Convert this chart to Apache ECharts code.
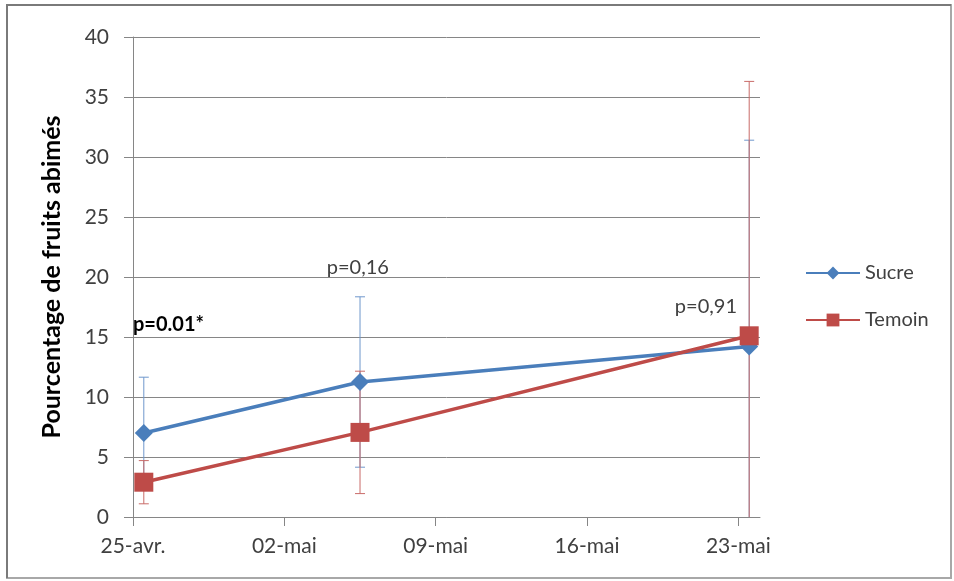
<!DOCTYPE html>
<html>
<head>
<meta charset="utf-8">
<script src="https://cdn.jsdelivr.net/npm/echarts@6/dist/echarts.min.js"></script>
<style>
html,body{margin:0;padding:0;background:#fff;}
#chart{width:954px;height:581px;}
</style>
</head>
<body>
<div id="chart"></div>
<script>
// Days since 25-avr. for each measurement date (25-avr., 05-mai, 23-mai)
const measureDays = [0, 10, 28];
const tickDays = [0, 7, 14, 21, 28];
const tickLabels = ['25-avr.', '02-mai', '09-mai', '16-mai', '23-mai'];

const sucreMean = [7.0, 11.25, 14.2];
const sucreErr  = [4.65, 7.1, 17.2];
const temoinMean = [2.9, 7.05, 15.1];
const temoinErr  = [1.8, 5.1, 21.2];

const pLabels = ['p=0.01*', 'p=0,16', 'p=0,91'];
const pLabelDay = [0, 10.4, 26.5];
const pLabelVal = [16.0, 20.8, 17.5];
const pLabelBold = [true, false, false];

const yTicks = [0, 5, 10, 15, 20, 25, 30, 35, 40];

const FONT = 'Lato';
const BLUE = '#4A7EBB';
const RED = '#BE4B48';

// Excel date axis places each point at the middle of its day slot
const px = d => d + 0.5;

const sucreData = measureDays.map((d, i) => [px(d), sucreMean[i]]);
const temoinData = measureDays.map((d, i) => [px(d), temoinMean[i]]);
const sucreErrData = measureDays.map((d, i) => [px(d), sucreMean[i] - sucreErr[i], sucreMean[i] + sucreErr[i]]);
const temoinErrData = measureDays.map((d, i) => [px(d), temoinMean[i] - temoinErr[i], temoinMean[i] + temoinErr[i]]);
const pData = pLabels.map((t, i) => [pLabelDay[i], pLabelVal[i], i]);

function errRender(color) {
  return function (params, api) {
    const x = api.value(0), lo = api.value(1), hi = api.value(2);
    const top = api.coord([x, hi]);
    const bot = api.coord([x, Math.max(lo, 0)]);
    const hw = 5;
    const style = { stroke: color, lineWidth: 1 };
    const children = [
      { type: 'line', shape: { x1: top[0], y1: top[1], x2: bot[0], y2: bot[1] }, style },
      { type: 'line', shape: { x1: top[0] - hw, y1: top[1], x2: top[0] + hw, y2: top[1] }, style }
    ];
    if (lo >= 0) {
      children.push({ type: 'line', shape: { x1: bot[0] - hw, y1: bot[1], x2: bot[0] + hw, y2: bot[1] }, style });
    }
    return { type: 'group', children };
  };
}

const chart = echarts.init(document.getElementById('chart'), null, { renderer: 'canvas' });
chart.setOption({
  animation: false,
  backgroundColor: '#fff',
  textStyle: { fontFamily: FONT },
  graphic: [
    {
      type: 'rect', z: -1,
      shape: { x: 7, y: 5, width: 944, height: 573 },
      style: { fill: 'none', stroke: '#a8a8a8', lineWidth: 2 }
    },
    {
      type: 'polyline', z: -1,
      shape: { points: [[7, 578], [7, 5], [951, 5]] },
      style: { fill: 'none', stroke: '#7a7a7a', lineWidth: 2 }
    }
  ],
  grid: { left: 133, right: 194, top: 37, bottom: 64 },
  legend: {
    orient: 'vertical', left: 800, top: 258, itemWidth: 54, itemHeight: 16, itemGap: 27,
    textStyle: { fontFamily: FONT, fontSize: 20, color: '#404040' },
    data: ['Sucre', 'Temoin']
  },
  xAxis: {
    type: 'value', min: 0, max: 29, interval: 7,
    axisLine: { show: true, lineStyle: { color: '#868686', width: 1 } },
    axisTick: { show: true, length: 9, lineStyle: { color: '#868686' } },
    splitLine: { show: false },
    axisLabel: {
      fontFamily: FONT, fontSize: 21, color: '#404040', margin: 19,
      showMaxLabel: false,
      formatter: v => { const i = tickDays.indexOf(v); return i >= 0 ? tickLabels[i] : ''; }
    }
  },
  yAxis: {
    type: 'value', min: 0, max: 40, interval: 5,
    name: 'Pourcentage de fruits abimés', nameLocation: 'middle', nameGap: 69,
    nameTextStyle: { fontFamily: FONT, fontSize: 25, fontWeight: 'bold', color: '#000' },
    axisLine: { show: true, lineStyle: { color: '#868686', width: 1 } },
    axisTick: { show: true, length: 9, lineStyle: { color: '#868686' } },
    splitLine: { show: true, lineStyle: { color: '#868686', width: 1 } },
    axisLabel: {
      fontFamily: FONT, fontSize: 21, color: '#404040', margin: 24,
      formatter: v => (yTicks.indexOf(v) >= 0 ? String(v) : '')
    }
  },
  series: [
    {
      name: 'SucreErr', type: 'custom', renderItem: errRender('#6f97cc'), data: sucreErrData,
      encode: { x: 0, y: [1, 2] }, clip: true, z: 1, silent: true
    },
    {
      name: 'TemoinErr', type: 'custom', renderItem: errRender('#c96b68'), data: temoinErrData,
      encode: { x: 0, y: [1, 2] }, clip: true, z: 1, silent: true
    },
    {
      name: 'Sucre', type: 'line', data: sucreData, color: BLUE,
      lineStyle: { width: 3.5, color: BLUE }, symbol: 'diamond', symbolSize: 18,
      itemStyle: { color: BLUE }, z: 3
    },
    {
      name: 'Temoin', type: 'line', data: temoinData, color: RED,
      lineStyle: { width: 3.5, color: RED }, symbol: 'rect', symbolSize: 19,
      itemStyle: { color: RED }, z: 4
    },
    {
      name: 'pvals', type: 'custom', data: pData, encode: { x: 0, y: 1 }, z: 5, silent: true,
      renderItem: function (params, api) {
        const i = api.value(2);
        const p = api.coord([api.value(0), api.value(1)]);
        const bold = pLabelBold[i];
        return {
          type: 'text', x: p[0], y: p[1],
          style: {
            text: pLabels[i], fontFamily: FONT, fontSize: 20,
            fontWeight: bold ? 'bold' : 'normal',
            fill: bold ? '#000' : '#404040',
            align: bold ? 'left' : 'center', verticalAlign: 'middle'
          }
        };
      }
    }
  ]
});
</script>
</body>
</html>
